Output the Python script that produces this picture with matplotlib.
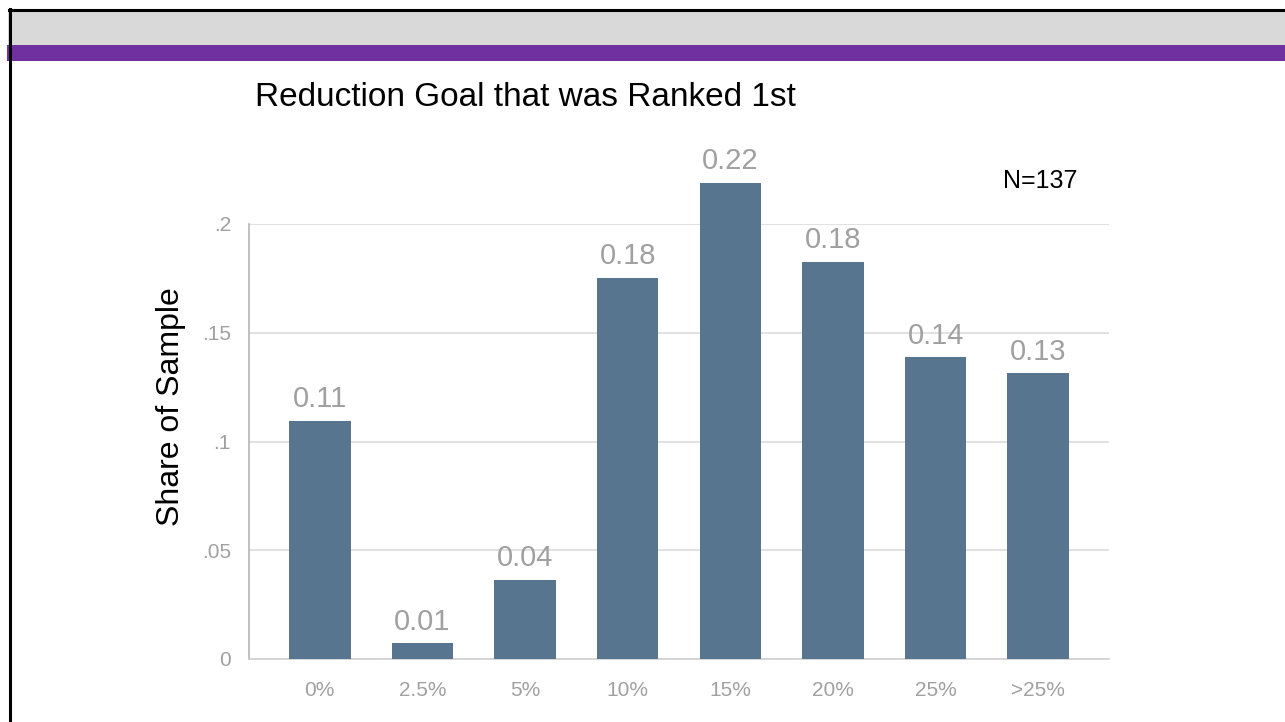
"""Bar chart: reduction goal ranked first, share of sample (N=137)."""

import matplotlib
matplotlib.use("Agg")
import matplotlib.pyplot as plt
from matplotlib.patches import Rectangle
from matplotlib.lines import Line2D

plt.rcParams["font.family"] = ["Liberation Sans", "DejaVu Sans"]

# data
categories = ["0%", "2.5%", "5%", "10%", "15%", "20%", "25%", ">25%"]
shares = [0.1095, 0.0073, 0.0365, 0.1752, 0.2190, 0.1825, 0.1387, 0.1314]
value_labels = ["0.11", "0.01", "0.04", "0.18", "0.22", "0.18", "0.14", "0.13"]
yticks = [0, 0.05, 0.10, 0.15, 0.20]
ytick_labels = ["0", ".05", ".1", ".15", ".2"]

W, H = 1285, 722
BAR = "#57758f"
LABEL_GREY = "#a0a0a0"
GRID = "#dcdcdc"

fig = plt.figure(figsize=(W / 100, H / 100), dpi=100)
fig.patch.set_facecolor("white")


def fx(px):
    return px / W


def fy(py):
    return 1 - py / H


# slide header: grey band, purple band, black frame
fig.add_artist(Rectangle((fx(8), fy(45)), 1, (45 - 10) / H,
                         transform=fig.transFigure, color="#d9d9d9", lw=0))
fig.add_artist(Rectangle((fx(7), fy(61)), 1, (61 - 45) / H,
                         transform=fig.transFigure, color="#7030a0", lw=0))
fig.add_artist(Line2D([fx(9.5), fx(9.5)], [fy(9), 0], transform=fig.transFigure,
                      color="black", lw=2.2))
fig.add_artist(Line2D([fx(9), 1], [fy(9.5), fy(9.5)], transform=fig.transFigure,
                      color="black", lw=2.2))

ax = fig.add_axes([fx(249), fy(659), fx(1109) - fx(249), (659 - 224) / H])
x = range(len(categories))
bars = ax.bar(x, shares, width=0.6, color=BAR, zorder=3, clip_on=False)
for b, lab in zip(bars, value_labels):
    ax.text(b.get_x() + b.get_width() / 2, b.get_height() + 0.0035, lab,
            ha="center", va="bottom", fontsize=21, color=LABEL_GREY)

ax.set_xlim(-0.69, len(categories) - 1 + 0.69)
ax.set_ylim(0, 0.2)
ax.set_yticks(yticks)
ax.set_yticklabels(ytick_labels)
ax.set_xticks(list(x))
ax.set_xticklabels(categories)
ax.tick_params(axis="both", length=0, labelsize=15, colors=LABEL_GREY)
ax.tick_params(axis="y", pad=13)
ax.tick_params(axis="x", pad=16)
ax.grid(axis="y", color=GRID, lw=1.2, zorder=0)
for side in ("top", "right"):
    ax.spines[side].set_visible(False)
ax.spines["left"].set_color("#b5b5b5")
ax.spines["bottom"].set_color("#cfcfcf")
ax.spines["left"].set_linewidth(1.2)
ax.spines["bottom"].set_linewidth(1.2)

ax.set_ylabel("Share of Sample", fontsize=23, color="black")
ax.yaxis.set_label_coords((186 - 249) / 860, (659 - 407) / 435)

fig.text(fx(255), fy(97), "Reduction Goal that was Ranked 1st", fontsize=24,
         color="black", va="center", ha="left")
fig.text(fx(1040), fy(181), "N=137", fontsize=18, color="black",
         va="center", ha="center")

fig.savefig("out.png", dpi=100)
